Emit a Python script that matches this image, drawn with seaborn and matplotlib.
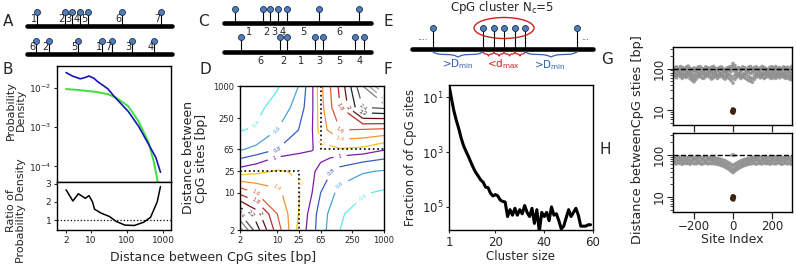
import numpy as np
import pandas as pd
import matplotlib
matplotlib.use("Agg")
import matplotlib.pyplot as plt
from matplotlib.patches import Ellipse
from matplotlib.ticker import NullLocator, FixedLocator, LogLocator
import seaborn as sns

sns.set_style("ticks")
plt.rcParams['font.family'] = ['DejaVu Sans']
plt.rcParams['mathtext.fontset'] = 'dejavusans'
plt.rcParams['axes.linewidth'] = 1.0
plt.rcParams['axes.edgecolor'] = 'black'

W, H = 796, 269

# ---- B: probability density of CpG distances ----
blue_bp = [2, 3, 5, 7, 8.7, 12, 15, 29, 44, 108, 209, 400, 630, 850]
blue_density = [2.45e-2, 2.0e-2, 1.7e-2, 1.85e-2, 2.0e-2, 1.75e-2, 1.45e-2,
                9.5e-3, 6.0e-3, 2.5e-3, 1.05e-3, 3.6e-4, 1.7e-4, 7.1e-5]
green_bp = [2, 4, 8, 15, 29, 50, 108, 209, 400, 560, 760]
green_density = [9.3e-3, 8.9e-3, 8.3e-3, 7.8e-3, 6.9e-3, 5.6e-3, 3.4e-3,
                 1.4e-3, 4.0e-4, 1.26e-4, 3.0e-5]
ratio_bp = [2, 3.1, 4.4, 6.9, 8.7, 10.9, 12.4, 19, 32, 50, 87, 160, 290, 450, 690, 850]
ratio_values = [2.67, 2.05, 2.45, 2.2, 2.35, 2.0, 1.6, 1.38, 1.2, 0.92, 0.72,
                0.7, 0.88, 1.15, 2.0, 2.85]

# ---- D: ratio of joint density over neighbouring distances ----
grid_bp = [2, 4, 10, 25, 45, 65, 150, 400, 1000]
ratio_grid = [  # rows: second distance, columns: first distance
    [2.9, 2.3, 1.7, 1.15, 0.88, 0.68, 0.40, 0.30, 0.25],
    [2.4, 2.1, 1.6, 1.2, 0.9, 0.7, 0.42, 0.32, 0.30],
    [1.75, 1.6, 1.45, 1.22, 1.0, 0.8, 0.53, 0.42, 0.37],
    [1.1, 1.15, 1.22, 1.18, 1.05, 0.9, 0.72, 0.62, 0.58],
    [0.78, 0.88, 1.02, 1.08, 1.1, 1.05, 0.95, 0.88, 0.82],
    [0.58, 0.65, 0.8, 0.92, 0.98, 1.15, 1.18, 1.15, 1.02],
    [0.39, 0.42, 0.6, 0.8, 0.99, 1.3, 1.6, 1.58, 1.55],
    [0.30, 0.35, 0.47, 0.68, 0.97, 1.33, 1.8, 2.4, 2.45],
    [0.28, 0.32, 0.38, 0.6, 0.97, 1.35, 1.85, 2.6, 3.3],
]
contour_levels = [0.4, 0.6, 0.8, 1.0, 1.2, 1.4, 1.6, 1.8, 2.0, 2.2, 2.4, 2.6, 2.8, 3.0]
contour_colors = ['#5fe6ef', '#4b9fd6', '#3a5cc0', '#7a1ea6', '#f2c21f', '#f39232',
                  '#e2573a', '#b22a2a', '#6b1010', '#202020', '#505050', '#7e7e7e',
                  '#a2a2a2', '#8fa98a']
d_max_bp = 25
d_min_bp = 65
d_ticks = [2, 10, 25, 65, 250, 1000]

# ---- F: cluster size distribution ----
cluster_size = list(range(1, 60))
log_frac = [-0.56, -1.05, -1.5, -1.85, -2.15, -2.5, -2.78, -2.98, -3.17, -3.38,
            -3.58, -3.75, -3.88, -4.02, -4.1, -4.28, -4.3, -4.5, -4.6, -4.55,
            -4.6, -4.75, -4.8, -4.82, -5.35, -5.1, -5.3, -5.05, -5.3, -5.1,
            -5.25, -4.95, -5.2, -5.35, -5.05, -5.6, -5.1, -5.9, -5.2, -5.35,
            -5.2, -5.5, -5.0, -5.3, -5.25, -5.5, -5.8, -5.7, -5.4, -5.1,
            -5.35, -5.2, -5.05, -5.3, -5.7, -5.7, -5.7, -5.65, -5.65]

# ---- G / H: distances around cluster sites ----
site_index = list(range(-300, 301, 10))
g_hi = [104, 110, 98, 112, 106, 100, 108, 115, 102, 96,
        104, 99, 108, 112, 103, 97, 110, 105, 100, 108,
        113, 102, 98, 106, 110, 100, 95, 104, 108, 112,
        132,
        118, 100, 106, 98, 110, 104, 96, 108, 112, 100,
        106, 110, 98, 104, 112, 106, 100, 96, 108, 110,
        104, 112, 100, 106, 98, 110, 104, 108, 100, 112]
g_upper = [95, 92, 100, 96, 90, 98, 94, 99, 91, 86,
           88, 93, 97, 95, 100, 91, 94, 98, 96, 92,
           97, 90, 94, 99, 93, 96, 88, 92, 99, 97,
           112,
           102, 92, 96, 90, 95, 98, 88, 94, 97, 91,
           96, 99, 93, 95, 100, 97, 92, 94, 98, 96,
           95, 99, 91, 96, 93, 98, 95, 97, 92, 94]
g_mid = [86, 78, 90, 82, 75, 88, 80, 84, 77, 72,
         70, 80, 85, 78, 90, 82, 76, 84, 88, 79,
         83, 76, 88, 80, 74, 86, 82, 78, 90, 84,
         95,
         86, 80, 76, 84, 72, 78, 88, 82, 76, 80,
         85, 78, 90, 82, 76, 84, 80, 88, 78, 82,
         86, 80, 76, 84, 90, 78, 82, 86, 80, 76]
g_lower = [74, 68, 78, 72, 66, 74, 70, 76, 66, 60,
           58, 66, 72, 70, 76, 70, 68, 74, 76, 66,
           70, 72, 68, 72, 76, 70, 66, 70, 72, 66,
           60,
           70, 70, 72, 68, 66, 68, 72, 64, 60, 58,
           68, 70, 76, 70, 70, 72, 70, 76, 68, 70,
           74, 68, 70, 72, 76, 70, 68, 72, 66, 64]
g_lo = [66, 60, 70, 63, 58, 65, 61, 67, 57, 52,
        48, 55, 62, 66, 60, 58, 64, 68, 62, 56,
        60, 65, 58, 63, 67, 60, 56, 62, 58, 52,
        45,
        55, 62, 66, 58, 63, 60, 56, 52, 50, 47,
        55, 62, 66, 60, 64, 58, 62, 66, 60, 58,
        63, 58, 65, 60, 66, 62, 58, 60, 56, 54]
h_hi = [88, 85, 90, 86, 84, 89, 87, 85, 91, 86, 84, 88, 86, 90, 85, 87, 89, 84, 86, 88,
        86, 84, 82, 80, 78, 75, 72, 68, 64, 60,
        56,
        60, 64, 68, 72, 75, 78, 80, 82, 84, 86,
        88, 85, 87, 90, 86, 84, 88, 86, 89, 85, 87, 90, 86, 84, 88, 85, 87, 89, 86, 88]
h_mid = [75, 72, 77, 74, 71, 76, 73, 75, 72, 74, 77, 73, 75, 71, 76, 74, 72, 75, 77, 73,
         74, 72, 70, 68, 66, 63, 60, 57, 53, 49,
         45,
         49, 53, 57, 60, 63, 66, 68, 70, 72, 74,
         73, 76, 74, 72, 75, 77, 73, 74, 71, 76, 75, 73, 77, 74, 72, 75, 73, 76, 74, 72]
h_lo = [63, 61, 65, 62, 60, 64, 62, 63, 60, 65, 62, 61, 64, 63, 60, 62, 65, 61, 63, 62,
        62, 61, 60, 58, 56, 54, 51, 48, 45, 41,
        38,
        41, 45, 48, 51, 54, 56, 58, 60, 61, 62,
        63, 60, 64, 62, 61, 65, 62, 63, 60, 64, 62, 61, 65, 63, 60, 62, 64, 61, 63, 60]
h_spike_site = [-6, 0, 6]
h_spike_dist = [98, 101, 97]
center_site = [-3, 0, 2, 4, 1, 3, -1]
center_dist = [9.2, 10.3, 9.6, 10.0, 8.8, 9.8, 9.4]

# ---- schematic site positions (along each line) ----
a_sites_top = [10, 38, 45, 53, 61, 95, 134]
a_labels_top = ['1', '2', '3', '4', '5', '6', '7']
a_sites_bot = [9, 22, 51, 75, 85, 105, 127]
a_labels_bot = ['6', '2', '5', '1', '7', '3', '4']
c_sites_top = [11, 39, 46, 54, 63, 95, 135]
c_gaps_top = ['1', '2', '3', '4', '5', '6']
c_sites_bot = [17, 56, 63, 91, 99, 131, 140]
c_gaps_bot = ['6', '2', '1', '3', '5', '4']
e_sites = [21, 71, 82, 92, 103, 113, 165]

BLUE = '#1414b4'
GREEN = '#3ce03c'
DOT_FACE = '#4f7fb8'
DOT_EDGE = '#1a2a50'
BRACE_BLUE = '#3060b0'
BRACE_RED = '#d02020'

fig = plt.figure(figsize=(W / 100, H / 100), dpi=100)


def px_axes(l, t, r, b, **kw):
    return fig.add_axes([l / W, 1 - b / H, (r - l) / W, (b - t) / H], **kw)


# ---------------- B ----------------
axB = px_axes(57, 66, 171, 182)
axR = px_axes(57, 182, 171, 230)
sns.lineplot(x=green_bp, y=green_density, ax=axB, color=GREEN, lw=1.4)
sns.lineplot(x=blue_bp, y=blue_density, ax=axB, color=BLUE, lw=1.2)
for ax in (axB, axR):
    ax.set_xscale('log')
    ax.set_xlim(1.12, 1670)
    ax.xaxis.set_minor_locator(NullLocator())
    ax.tick_params(labelsize=6.5, length=2.5, width=0.8, pad=1.5)
axB.set_yscale('log')
axB.set_ylim(4e-5, 3.6e-2)
axB.yaxis.set_major_locator(FixedLocator([1e-4, 1e-3, 1e-2]))
axB.yaxis.set_minor_locator(NullLocator())
axB.tick_params(axis='x', bottom=False, labelbottom=False)
axB.set_ylabel('Probability\nDensity', fontsize=8, linespacing=1.0)
axB.yaxis.set_label_coords(-0.27, 0.62)

sns.lineplot(x=ratio_bp, y=ratio_values, ax=axR, color='black', lw=1.1)
axR.axhline(1, color='black', ls=':', lw=0.9)
axR.set_ylim(0.45, 3.1)
axR.set_yticks([1, 2, 3])
axR.set_xticks([2, 10, 100, 1000])
axR.set_xticklabels(['2', '10', '100', '1000'])
axR.set_ylabel('Ratio of\nProbability Density', fontsize=8, linespacing=1.0)
axR.yaxis.set_label_coords(-0.27, 0.4)

# ---------------- D ----------------
axD = px_axes(240, 86, 384, 230)
lg = np.log10(grid_bp)
cs = axD.contour(lg, lg, np.array(ratio_grid), levels=contour_levels,
                 colors=contour_colors, linewidths=0.9)
axD.clabel(cs, fontsize=3.8, fmt=lambda v: f"{v:g}", inline=True)
lmax, lmin = np.log10(d_max_bp), np.log10(d_min_bp)
axD.plot([np.log10(2), lmax, lmax], [lmax, lmax, np.log10(2)], color='black', ls=':', lw=1.2)
axD.plot([lmin, lmin, 3], [3, lmin, lmin], color='black', ls=':', lw=1.2)
axD.set_xlim(np.log10(2), 3)
axD.set_ylim(np.log10(2), 3)
axD.set_xticks(np.log10(d_ticks))
axD.set_yticks(np.log10(d_ticks))
axD.set_xticklabels([str(t) for t in d_ticks])
axD.set_yticklabels([str(t) for t in d_ticks])
axD.tick_params(labelsize=6, length=2.5, width=0.8, pad=1.5)
axD.set_ylabel('Distance between\nCpG sites [bp]', fontsize=9, linespacing=1.05)
axD.yaxis.set_label_coords(-0.22, 0.5)

# ---------------- F ----------------
axF = px_axes(449, 85, 593, 230)
frac = 10 ** np.array(log_frac)
sns.lineplot(x=cluster_size, y=frac, ax=axF, color='black', lw=2.2)
axF.set_yscale('log')
axF.set_xlim(1, 60)
axF.set_ylim(10 ** -5.84, 10 ** -0.56)
axF.set_xticks([1, 20, 40, 60])
axF.yaxis.set_major_locator(FixedLocator([1e-5, 1e-3, 1e-1]))
axF.yaxis.set_minor_locator(NullLocator())
axF.set_yticklabels(['$10^{5}$', '$10^{3}$', '$10^{1}$'])
axF.tick_params(labelsize=8.5, length=2.5, width=0.8, pad=1.5)
axF.set_xlabel('Cluster size', fontsize=8.5, labelpad=1)
axF.set_ylabel('Fraction of of CpG sites', fontsize=8.5)
axF.yaxis.set_label_coords(-0.22, 0.5)

# ---------------- G / H ----------------
axG = px_axes(673, 47, 792, 125)
axH = px_axes(673, 133, 792, 212)
g_df = pd.DataFrame({'site': site_index * 5,
                     'dist': g_hi + g_upper + g_mid + g_lower + g_lo})
h_df = pd.DataFrame({'site': site_index * 3, 'dist': h_hi + h_mid + h_lo})
for ax, df in ((axG, g_df), (axH, h_df)):
    sns.scatterplot(data=df, x='site', y='dist', ax=ax, color='#8e8e8e', s=7,
                    linewidth=0, edgecolor='none', alpha=0.85)
    sns.scatterplot(x=center_site, y=center_dist, ax=ax, color='#3b2314', s=12,
                    linewidth=0, edgecolor='none')
    ax.axhline(100, color='black', ls='--', lw=1.0)
    ax.set_yscale('log')
    ax.set_ylim(4.4, 330)
    ax.set_xlim(-308, 303)
    ax.set_xticks([-200, 0, 200])
    ax.yaxis.set_major_locator(FixedLocator([10, 100]))
    ax.yaxis.set_minor_locator(LogLocator(base=10, subs=np.arange(2, 10)))
    ax.yaxis.set_minor_formatter(plt.NullFormatter())
    ax.set_yticklabels(['10', '100'])
    ax.tick_params(axis='y', labelsize=8.5, labelrotation=90, length=4, width=0.8, pad=1)
    ax.tick_params(axis='y', which='minor', length=2, width=0.6)
    ax.tick_params(axis='x', labelsize=8.5, length=5, width=0.9, pad=1)
    ax.set_xlabel('')
    ax.set_ylabel('')
    for lab in ax.get_yticklabels():
        lab.set_va('center')
sns.scatterplot(x=h_spike_site, y=h_spike_dist, ax=axH, color='#b0b0b0', s=7,
                linewidth=0, edgecolor='none')
axG.tick_params(axis='x', labelbottom=False)
axH.set_xlabel('Site Index', fontsize=9, labelpad=0)

# ---------------- overlay: schematics and panel letters ----------------
ov = fig.add_axes([0, 0, 1, 1], facecolor='none')
ov.set_xlim(0, W)
ov.set_ylim(H, 0)
ov.axis('off')


def draw_line(x0, x1, y, sites, stem):
    ov.plot([x0, x1], [y, y], color='black', lw=3.3, solid_capstyle='round', zorder=2)
    for s in sites:
        ov.plot([x0 + s, x0 + s], [y, y - stem], color='black', lw=0.8, zorder=1)
    ov.plot([x0 + s for s in sites], [y - stem] * len(sites), 'o', ms=4.3,
            mfc=DOT_FACE, mec=DOT_EDGE, mew=0.6, zorder=3)


def draw_brace(xa, xb, y, h, color, lw=0.9):
    half = (xb - xa) / 2
    t = np.linspace(0, 1, 40)
    shape = 1 / (1 + np.exp(-10 * t)) + 1 / (1 + np.exp(-10 * (t - 1))) - 0.5
    xs = np.concatenate([xa + t * half, xb - t[::-1] * half])
    ys = y + h * np.concatenate([shape, shape[::-1]])
    ov.plot(xs, ys, color=color, lw=lw)


# A
for y, stem, sites, labels in ((26, 14, a_sites_top, a_labels_top),
                               (54, 13, a_sites_bot, a_labels_bot)):
    draw_line(27, 172, y, sites, stem)
    for s, lab in zip(sites, labels):
        ov.text(27 + s - 0.3, y - 6.5, lab, fontsize=7, ha='right', va='center')

# C
for y, stem, sites, gaps in ((23, 14, c_sites_top, c_gaps_top),
                             (52, 15, c_sites_bot, c_gaps_bot)):
    draw_line(224, 371, y, sites, stem)
    for i, lab in enumerate(gaps):
        mid = 224 + (sites[i] + sites[i + 1]) / 2
        ov.text(mid, y + 9, lab, fontsize=7, ha='center', va='center')

# E
e0 = 412
draw_line(e0, 593, 49, e_sites, 21)
ov.text(502, 8, 'CpG cluster N$_\\mathrm{c}$=5', fontsize=8.5, ha='center', va='center')
ov.add_patch(Ellipse((e0 + e_sites[3], 28), 60, 21, fill=False, ec=BRACE_RED, lw=1.0))
ov.text(422, 38, '....', fontsize=6, ha='center', va='center')
ov.text(585, 38, '...', fontsize=6, ha='center', va='center')
draw_brace(e0 + e_sites[0], e0 + e_sites[1], 52, 5, BRACE_BLUE)
for i in range(1, 5):
    draw_brace(e0 + e_sites[i], e0 + e_sites[i + 1], 52, 4, BRACE_RED)
draw_brace(e0 + e_sites[5], e0 + e_sites[6], 52, 5, BRACE_BLUE)
ov.text(458, 64, '>D$_\\mathrm{min}$', fontsize=7.5, color=BRACE_BLUE, ha='center', va='center')
ov.text(503, 64, '<d$_\\mathrm{max}$', fontsize=7.5, color=BRACE_RED, ha='center', va='center')
ov.text(550, 65, '>D$_\\mathrm{min}$', fontsize=7.5, color=BRACE_BLUE, ha='center', va='center')

# shared labels
ov.text(213, 257, 'Distance between CpG sites [bp]', fontsize=9, ha='center', va='center')
ov.text(638, 140, 'Distance betweenCpG sties [bp]', fontsize=9.3, ha='center',
        va='center', rotation=90)

for lab, x, y in (('A', 8, 22), ('B', 8, 70), ('C', 203, 22), ('D', 205, 70),
                  ('E', 388, 22), ('F', 388, 70), ('G', 607, 59), ('H', 605, 149)):
    ov.text(x, y, lab, fontsize=11, ha='center', va='center')

fig.savefig('out.png', dpi=100)
